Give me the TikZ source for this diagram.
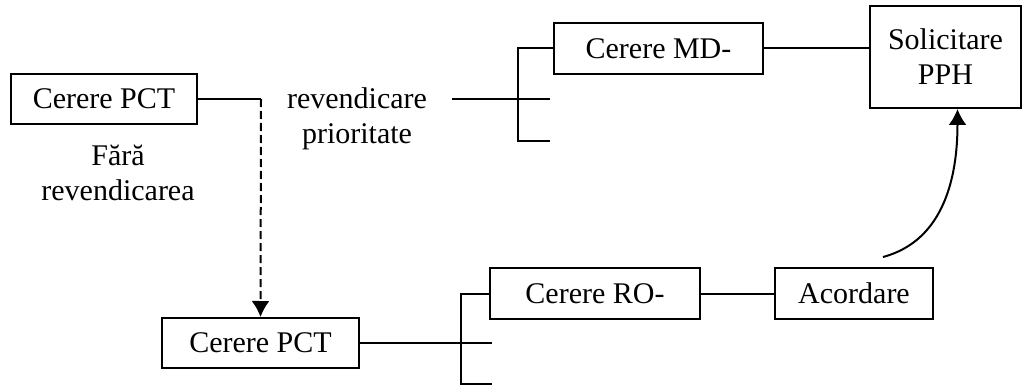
\documentclass[tikz,border=0pt]{standalone}
\usepackage{fontspec}
\setmainfont{Liberation Serif}
\usetikzlibrary{arrows.meta}
\begin{document}
\begin{tikzpicture}[x=0.5pt,y=-0.5pt,line width=1pt]
\tikzstyle{cerere}=[draw,inner sep=0pt,minimum height=25pt,align=center]
\tikzstyle{eticheta}=[inner sep=0pt,align=center]
\tikzset{every node/.style={font=\fontsize{15}{17.5}\selectfont}}
\useasboundingbox (0,0) rectangle (1022,385);

% Cerere PCT initiala
\node[cerere,minimum width=93pt] (PCT) at (104,99) {Cerere PCT};
\coordinate (R) at (261,99);
\draw (PCT) -- (R);
\node[eticheta] (fara) at (118,173) {Fără\\revendicarea};

% Cu revendicare
\node[eticheta] (rev) at (357,119) {revendicare\\prioritate};
\coordinate (A) at (452,99);
\coordinate (B) at (518,99);
\draw (A) -- (B);
\node[cerere,minimum width=104.5pt,minimum height=25.5pt] (MD) at (658.5,48.5) {Cerere MD-};
\node[cerere,minimum width=75.5pt,minimum height=51pt] (PPH) at (945.5,57) {Solicitare\\PPH};
\draw (MD.west) -| (B |- 0,141) -- ++(32,0);
\draw (B) -- ++(32,0);
\draw (MD.east) -- (MD.east -| PPH.west);

% Fara revendicare
\node[cerere,minimum width=98.5pt] (PCT2) at (260.5,343) {Cerere PCT};
\draw[dash pattern=on 4pt off 2pt,-{Latex[length=8pt,width=9pt]}] (R) -- (PCT2.north);
\coordinate (C) at (461,343);
\draw (PCT2) -- (C);
\node[cerere,minimum width=105pt,minimum height=25.5pt] (RO) at (595,293.5) {Cerere RO-};
\node[cerere,minimum width=79pt,minimum height=25.5pt] (acord) at (854,293.5) {Acordare};
\draw (RO.west) -| (C |- 0,384) -- ++(31,0);
\draw (C) -- ++(31,0);
\draw (RO) -- (acord);

% Acordare -> PPH
\coordinate (S) at (883,257);
\draw[-{Latex[length=8pt,width=9pt]}] (S) to[out=15,in=-90] ([xshift=6pt]PPH.south);

\end{tikzpicture}
\end{document}
